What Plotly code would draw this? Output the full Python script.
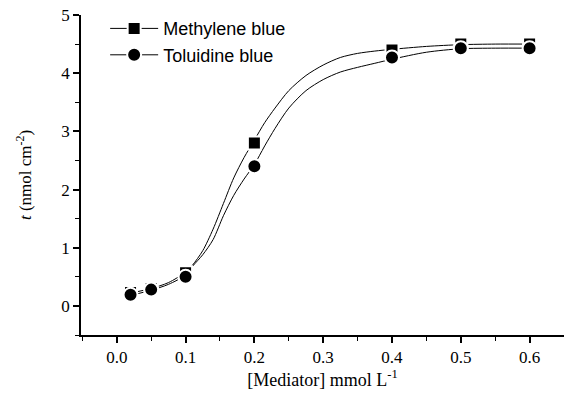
import plotly.graph_objects as go

# measured data points
conc = [0.02, 0.05, 0.1, 0.2, 0.4, 0.5, 0.6]
methylene_blue = [0.23, 0.30, 0.57, 2.80, 4.40, 4.50, 4.50]
toluidine_blue = [0.19, 0.28, 0.50, 2.40, 4.27, 4.43, 4.43]

# fitted curves
fit_x = [0.02, 0.05, 0.075, 0.1, 0.11, 0.125, 0.14, 0.155, 0.17, 0.185, 0.2, 0.215,
         0.23, 0.25, 0.275, 0.3, 0.325, 0.35, 0.375, 0.4, 0.45, 0.5, 0.55, 0.6]
fit_methylene = [0.22, 0.30, 0.40, 0.58, 0.70, 0.95, 1.32, 1.76, 2.20, 2.55, 2.85, 3.15,
                 3.40, 3.70, 3.96, 4.14, 4.27, 4.34, 4.38, 4.41, 4.46, 4.49, 4.50, 4.50]
fit_toluidine = [0.18, 0.27, 0.37, 0.53, 0.68, 0.88, 1.14, 1.55, 1.90, 2.18, 2.43, 2.75,
                 3.05, 3.40, 3.70, 3.89, 4.02, 4.10, 4.17, 4.24, 4.36, 4.42, 4.43, 4.43]

series = [
    ("Methylene blue", methylene_blue, fit_methylene, "square", 13),
    ("Toluidine blue", toluidine_blue, fit_toluidine, "circle", 14),
]

fig = go.Figure()
for name, vals, fit, sym, size in series:
    fig.add_trace(go.Scatter(
        x=fit_x, y=fit, mode="lines", showlegend=False, hoverinfo="skip",
        line=dict(color="black", width=1, shape="spline", smoothing=0.8),
    ))
for name, vals, fit, sym, size in series:
    fig.add_trace(go.Scatter(
        x=conc, y=vals, mode="markers", showlegend=False, name=name,
        marker=dict(symbol=sym, size=size, color="black", line=dict(color="white", width=2)),
    ))
for name, vals, fit, sym, size in series:
    fig.add_trace(go.Scatter(
        x=[None], y=[None], mode="lines+markers", name=name,
        line=dict(color="black", width=1),
        marker=dict(symbol=sym, size=size, color="black", line=dict(color="white", width=2)),
    ))

serif = "Liberation Serif"
fig.update_layout(
    width=564, height=393,
    margin=dict(l=81, r=0, t=15, b=58),
    plot_bgcolor="white", paper_bgcolor="white",
    showlegend=True,
    legend=dict(x=0.05, y=1.015, xanchor="left", yanchor="top",
                font=dict(family="Liberation Sans", size=18, color="black"),
                bgcolor="rgba(0,0,0,0)", tracegroupgap=0, itemwidth=48),
    xaxis=dict(
        range=[-0.052, 0.65], dtick=0.1, tick0=0, tickformat=".1f", automargin=False,
        showline=True, linecolor="black", linewidth=1.5, mirror=False,
        ticks="outside", ticklen=6, tickwidth=1.5, tickcolor="black",
        minor=dict(dtick=0.05, tick0=0, ticks="outside", ticklen=4, tickwidth=1.2, tickcolor="black"),
        showgrid=False, zeroline=False,
        tickfont=dict(family=serif, size=17, color="black"),
        title=dict(text="[Mediator] mmol L<sup>-1</sup>", font=dict(family=serif, size=18, color="black"), standoff=4),
    ),
    yaxis=dict(
        range=[-0.5, 5], dtick=1, tick0=0, automargin=False,
        showline=True, linecolor="black", linewidth=1.5, mirror=False,
        ticks="outside", ticklen=6, tickwidth=1.5, tickcolor="black",
        minor=dict(dtick=0.5, tick0=0, ticks="outside", ticklen=4, tickwidth=1.2, tickcolor="black"),
        showgrid=False, zeroline=False,
        tickfont=dict(family=serif, size=17, color="black"),
        title=dict(text="<i>t</i> (nmol cm<sup>-2</sup>)", font=dict(family=serif, size=17, color="black"), standoff=25),
    ),
)

fig.write_html("out.html", config={"displayModeBar": False},
               post_script="document.body.style.margin='0';")
